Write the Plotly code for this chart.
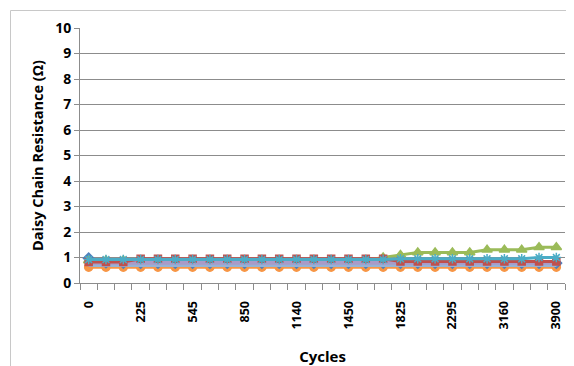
import plotly.graph_objects as go

# x positions are category indices (28 categories); labels shown every 3rd
n_points = 28
tick_labels = ["0", "225", "545", "850", "1140", "1450", "1825", "2295", "3160", "3900"]
tick_index = [0, 3, 6, 9, 12, 15, 18, 21, 24, 27]

orange_vals = [0.62] * 28
blue_vals = [0.97, 0.8, 0.78, 0.78, 0.78, 0.78, 0.78, 0.78, 0.78, 0.78, 0.78, 0.78, 0.78, 0.78,
             0.78, 0.78, 0.78, 0.78, 0.78, 0.78, 0.78, 0.78, 0.78, 0.78, 0.78, 0.78, 0.78, 0.78]
green_vals = [0.88] * 17 + [1.0, 1.1, 1.2, 1.2, 1.2, 1.2, 1.3, 1.3, 1.3, 1.4, 1.4]
lightblue_vals = [0.71] * 28
lavender_vals = [0.79] * 28
red_vals = [0.82, 0.82, 0.82] + [0.95] * 15 + [0.84] * 10
teal_vals = [0.92] * 18 + [0.95, 0.95, 0.95, 0.95, 0.95, 0.95, 0.95, 0.95, 1.0, 1.0]

x = list(range(n_points))

series = [
    ("Orange", orange_vals, "#F79646", "circle", 8, 3),
    ("Blue", blue_vals, "#4F81BD", "diamond", 8, 3),
    ("Green", green_vals, "#9BBB59", "triangle-up", 9, 3),
    ("Light blue", lightblue_vals, "#95B3D7", "square", 1, 4),
    ("Lavender", lavender_vals, "#A99BC8", "square", 1, 4),
    ("Red", red_vals, "#C0504D", "square", 7, 3),
    ("Teal", teal_vals, "#4BACC6", "asterisk-open", 8, 3),
]

fig = go.Figure()
for name, vals, color, sym, msize, lw in series:
    fig.add_trace(go.Scatter(
        x=x, y=vals, name=name, mode="lines+markers",
        line=dict(color=color, width=lw),
        marker=dict(symbol=sym, size=msize, color=color,
                    line=dict(color=color, width=1.5)),
        showlegend=False,
    ))

font_family = "Open Sans"
fig.update_layout(
    width=574, height=366,
    margin=dict(l=72, r=17, t=20, b=91, autoexpand=False),
    paper_bgcolor="white", plot_bgcolor="white",
    font=dict(family=font_family, color="black"),
    xaxis=dict(
        range=[-0.5, 27.5], automargin=False,
        tickmode="array", tickvals=tick_index, ticktext=tick_labels,
        tickangle=-90, ticks="", showgrid=False, zeroline=False,
        showline=True, linecolor="#8c8c8c", linewidth=1,
        tickfont=dict(size=12.5, family=font_family, weight="bold"),
        ticklabelstandoff=12,
        minor=dict(ticks="outside", tick0=-0.5, dtick=1, ticklen=6,
                   tickcolor="#8c8c8c", tickwidth=1, showgrid=False),
        title=dict(text="<b>Cycles</b>", font=dict(size=15), standoff=22),
    ),
    yaxis=dict(
        range=[0, 10], dtick=1, tick0=0, automargin=False,
        showgrid=True, gridcolor="#8c8c8c", gridwidth=1, zeroline=False,
        showline=True, linecolor="#8c8c8c", linewidth=1,
        ticks="outside", ticklen=5, tickcolor="#8c8c8c",
        tickfont=dict(size=14, family=font_family, weight="bold"),
        title=dict(text="<b>Daisy Chain Resistance (Ω)</b>", font=dict(size=14.5), standoff=8),
    ),
    shapes=[dict(type="rect", xref="paper", yref="paper",
                 x0=-0.1433, x1=1.05, y0=-0.5, y1=1.0686,
                 line=dict(color="#c8c8c8", width=1), layer="below")],
)

fig.write_html("out.html")
